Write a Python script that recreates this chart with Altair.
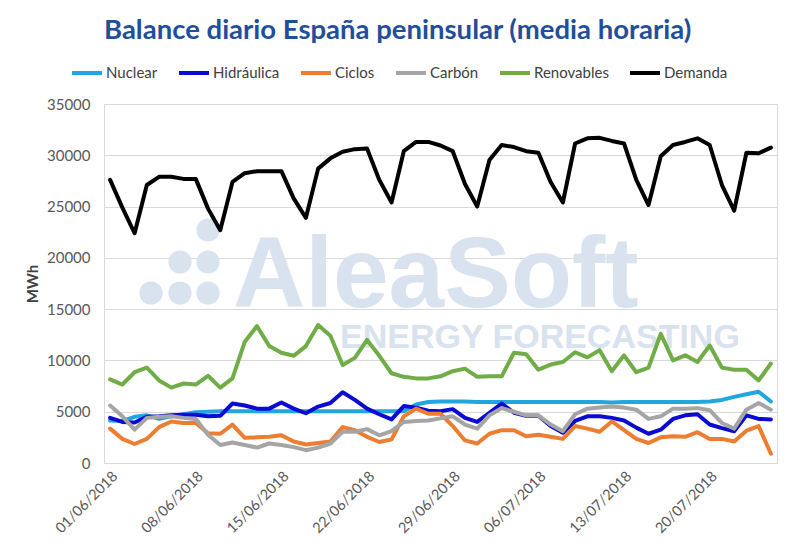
import altair as alt
import pandas as pd

fechas = pd.date_range("2018-06-01", "2018-07-25").strftime("%Y-%m-%d").tolist()
series = ["Nuclear", "Hidráulica", "Ciclos", "Carbón", "Renovables", "Demanda"]
colores = ["#21a6e0", "#0a0ad2", "#ed7d31", "#a5a5a5", "#70ad47", "#000000"]

nuclear = [4150, 4100, 4500, 4650, 4300, 4550, 4750, 4950, 5000, 5050, 5050, 5050, 5050, 5050,
           5050, 5050, 5050, 5050, 5050, 5050, 5050, 5050, 5050, 5050, 5050, 5700, 5950, 6000,
           6000, 6000, 5950, 5950, 5950, 5950, 5950, 5950, 5950, 5950, 5950, 5950, 5950, 5900,
           5950, 5950, 5950, 5950, 5950, 5950, 5950, 6000, 6150, 6450, 6700, 6950, 6000]
hidraulica = [4400, 4000, 3950, 4500, 4550, 4650, 4700, 4700, 4550, 4600, 5800, 5600, 5300, 5300,
              5900, 5300, 4850, 5500, 5850, 6900, 6150, 5300, 4750, 4250, 5550, 5400, 5100, 5050,
              5250, 4400, 4000, 4900, 5800, 4900, 4600, 4600, 3600, 2950, 4100, 4550, 4550, 4400,
              4150, 3450, 2850, 3250, 4300, 4650, 4750, 3750, 3400, 3100, 4650, 4300, 4250]
ciclos = [3350, 2350, 1850, 2350, 3500, 4050, 3900, 3900, 2900, 2850, 3750, 2450, 2500, 2550,
          2700, 2100, 1800, 1950, 2100, 3500, 3200, 2550, 2050, 2300, 4550, 5300, 4800, 4800,
          3600, 2200, 1900, 2850, 3200, 3200, 2600, 2750, 2550, 2350, 3600, 3350, 3050, 4050,
          3200, 2350, 1950, 2500, 2600, 2550, 3000, 2350, 2350, 2100, 3150, 3600, 900]
carbon = [5600, 4550, 3250, 4400, 4500, 4550, 4400, 4300, 2750, 1750, 2000, 1750, 1500, 1900,
          1750, 1550, 1250, 1500, 1900, 3050, 3050, 3300, 2700, 3100, 4000, 4100, 4150, 4350,
          4550, 3750, 3350, 4650, 5350, 5000, 4650, 4650, 3750, 3100, 4750, 5300, 5400, 5500,
          5400, 5200, 4300, 4550, 5300, 5300, 5350, 5150, 3900, 3350, 5200, 5850, 5200]
renovables = [8150, 7650, 8850, 9300, 8050, 7350, 7750, 7650, 8500, 7350, 8250, 11800, 13350, 11400,
              10750, 10450, 11400, 13450, 12400, 9550, 10250, 12000, 10450, 8750, 8400, 8250, 8250, 8450,
              8950, 9200, 8400, 8450, 8450, 10750, 10600, 9100, 9600, 9850, 10800, 10300, 11000, 8950,
              10500, 8850, 9300, 12600, 10000, 10500, 9850, 11450, 9300, 9100, 9100, 8050, 9700]
demanda = [27600, 24900, 22400, 27100, 27900, 27900, 27700, 27700, 24800, 22700, 27400, 28250, 28450, 28450,
           28450, 25800, 23900, 28700, 29700, 30350, 30600, 30650, 27600, 25400, 30400, 31300, 31300, 30950,
           30400, 27200, 25000, 29550, 31000, 30800, 30400, 30250, 27400, 25400, 31150, 31650, 31700, 31400,
           31150, 27600, 25150, 29900, 31000, 31300, 31650, 31000, 27100, 24600, 30250, 30200, 30750]

valores = [nuclear, hidraulica, ciclos, carbon, renovables, demanda]
filas = []
for nombre, vals in zip(series, valores):
    for f, v in zip(fechas, vals):
        filas.append({"fecha": f, "serie": nombre, "valor": v})
df = pd.DataFrame(filas)

tick_fechas = ["2018-06-01", "2018-06-08", "2018-06-15", "2018-06-22",
               "2018-06-29", "2018-07-06", "2018-07-13", "2018-07-20"]
tick_vals = [alt.DateTime(year=2018, month=int(t[5:7]), date=int(t[8:10]), utc=True) for t in tick_fechas]

FONT = "Lato"
PL, PT = 104, 104

x_enc = alt.X(
    "fecha:T",
    scale=alt.Scale(type="utc", domain=[
        alt.DateTime(year=2018, month=5, date=31, hours=12, utc=True),
        alt.DateTime(year=2018, month=7, date=25, hours=12, utc=True)]),
    axis=alt.Axis(values=tick_vals, format="%d/%m/%Y", labelAngle=-45, ticks=False, domain=False,
                  grid=False, labelFontSize=14.5, labelFont=FONT, labelColor="#595959", title=None,
                  labelPadding=6),
)
y_enc = alt.Y(
    "valor:Q",
    scale=alt.Scale(domain=[0, 35000], nice=False),
    axis=alt.Axis(values=list(range(0, 35001, 5000)), format="d", title="MWh", titleFontSize=15,
                  titleFont=FONT, titleFontWeight="bold", titleColor="#404040", titlePadding=6,
                  labelFontSize=15, labelFont=FONT, labelColor="#595959", labelPadding=14,
                  ticks=False, domain=False, gridColor="#d9d9d9"),
)
color_enc = alt.Color(
    "serie:N",
    scale=alt.Scale(domain=series, range=colores),
    legend=alt.Legend(orient="none", legendX=-34, legendY=-48, direction="horizontal", title=None,
                      symbolType="stroke", symbolStrokeWidth=4, symbolSize=900, labelFontSize=15,
                      labelFont=FONT, labelColor="#404040", columnPadding=13, labelOffset=2),
)

base = alt.Chart(df).mark_line(strokeWidth=4, strokeCap="round", strokeJoin="round").encode(
    x=x_enc, y=y_enc, color=color_enc)

capas = []

# watermark (decorative)
WM = "#d9e2ef"
capas.append(alt.Chart(pd.DataFrame({"t": ["AleaSoft"]})).mark_text(
    font="Liberation Sans", fontWeight="bold", fontSize=100, color=WM, align="left",
    baseline="alphabetic").encode(x=alt.value(233 - PL), y=alt.value(307 - PT), text="t:N"))
capas.append(alt.Chart(pd.DataFrame({"t": ["ENERGY FORECASTING"]})).mark_text(
    font="Liberation Sans", fontWeight="bold", fontSize=34, color=WM, align="left",
    baseline="alphabetic").encode(x=alt.value(340 - PL), y=alt.value(348 - PT), text="t:N"))
for (cx, cy) in [(208, 230), (180, 262), (208, 262), (151, 293), (180, 293), (208, 293)]:
    capas.append(alt.Chart(pd.DataFrame({"a": [0]})).mark_point(
        filled=True, shape="circle", size=540, color=WM, opacity=1).encode(
        x=alt.value(cx - PL), y=alt.value(cy - PT)))

for s in series:
    capas.append(base.transform_filter(alt.datum.serie == s))

chart = alt.layer(*capas).properties(
    width=673, height=359,
    autosize=alt.AutoSizeParams(type="none"),
    padding={"left": PL, "top": PT, "right": 800 - PL - 673, "bottom": 558 - PT - 359},
    title=alt.TitleParams("Balance diario España peninsular (media horaria)", anchor="start",
                          frame="group", fontSize=27.5, font=FONT, fontWeight="bold",
                          color="#1f4e9a", offset=12),
    background="white",
).configure_view(stroke="#d9d9d9", strokeWidth=1)

chart.save("out.html", embed_options={"renderer": "svg", "actions": False})
